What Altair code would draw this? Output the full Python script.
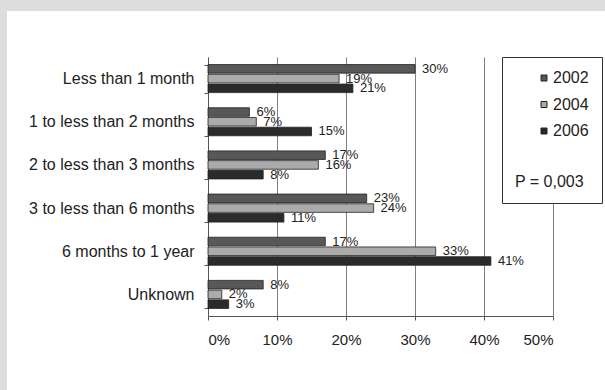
import altair as alt
import pandas as pd

categories = ["Less than 1 month", "1 to less than 2 months", "2 to less than 3 months",
              "3 to less than 6 months", "6 months to 1 year", "Unknown"]
years = ["2002", "2004", "2006"]
v2002 = [30, 6, 17, 23, 17, 8]
v2004 = [19, 7, 16, 24, 33, 2]
v2006 = [21, 15, 8, 11, 41, 3]
x_ticks = [0, 10, 20, 30, 40, 50]
p_note = "P = 0,003"
colors = ["#585858", "#ababab", "#2b2b2b"]

rows = []
for i, c in enumerate(categories):
    for yr, vals in zip(years, [v2002, v2004, v2006]):
        rows.append({"cat": c, "year": yr, "value": vals[i], "label": f"{vals[i]}%"})
df = pd.DataFrame(rows)

FONT = "Liberation Sans"

y_enc = alt.Y("cat:N", sort=categories,
              scale=alt.Scale(paddingInner=0.35, paddingOuter=0.175),
              axis=alt.Axis(title=None, labelFontSize=16, labelPadding=10, tickBand="extent",
                            tickSize=4, domainColor="#555", tickColor="#555",
                            labelColor="#222", grid=False, labelFont=FONT))
x_enc = alt.X("value:Q", scale=alt.Scale(domain=[0, 50], nice=False),
              axis=alt.Axis(values=x_ticks, labelExpr="datum.value + '%'", title=None,
                            grid=True, gridColor="#808080", labelFontSize=15, tickSize=4,
                            labelPadding=12, domainColor="#555", tickColor="#555",
                            labelColor="#222", labelFont=FONT))
yoff = alt.YOffset("year:N", sort=years, scale=alt.Scale(paddingInner=0.12))

legend = alt.Legend(title=p_note, orient="none", legendX=294, legendY=0,
                    titleOrient="bottom", titleAnchor="start", titleFontSize=16,
                    titleFontWeight="normal", titlePadding=35, titleFont=FONT,
                    labelFontSize=16, labelFont=FONT, symbolType="square", symbolSize=36,
                    symbolStrokeColor="#222", symbolStrokeWidth=1, symbolOffset=21,
                    labelOffset=1, rowPadding=10.5, padding=13, strokeColor="#333",
                    fillColor="white", labelColor="#222", titleColor="#222")

base = alt.Chart(df)
bars = base.mark_bar(stroke="#222", strokeWidth=0.8).encode(
    x=x_enc, y=y_enc, yOffset=yoff,
    color=alt.Color("year:N", sort=years, scale=alt.Scale(domain=years, range=colors),
                    legend=legend))
texts = base.mark_text(align="left", baseline="middle", dx=7, fontSize=13,
                       font=FONT, color="#222").encode(
    x="value:Q", y=alt.Y("cat:N", sort=categories), yOffset=yoff, text="label:N")

strip = pd.DataFrame({"a": [0]})
top_strip = alt.Chart(strip).mark_rect(color="#dcdddf").encode(
    x=alt.value(-208), x2=alt.value(397), y=alt.value(-57), y2=alt.value(-46))
left_strip = alt.Chart(strip).mark_rect(color="#dcdddf").encode(
    x=alt.value(-208), x2=alt.value(-201), y=alt.value(-57), y2=alt.value(333))

chart = alt.layer(top_strip, left_strip, bars, texts).properties(
    width=345, height=259, autosize="none",
    padding={"left": 208, "top": 57, "right": 52, "bottom": 74},
    background="white"
).configure_view(stroke=None)

chart.save("out.html", embed_options={"renderer": "svg", "actions": False})
